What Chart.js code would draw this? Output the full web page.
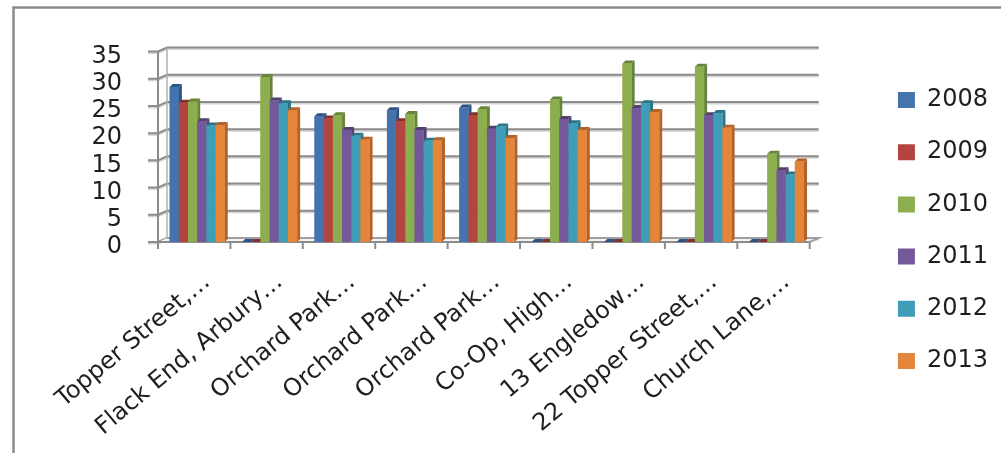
<!DOCTYPE html>
<html>
<head>
<meta charset="utf-8">
<script src="https://cdn.jsdelivr.net/npm/chart.js@4/dist/chart.umd.min.js"></script>
<style>
  html, body { margin: 0; padding: 0; background: #ffffff; }
  #wrap { width: 1001px; height: 453px; position: relative; }
</style>
</head>
<body>
<div id="wrap"><canvas id="chart" width="1001" height="453"></canvas></div>
<script>
// Site names (as shortened on the axis) and yearly readings
const categories = [
  'Topper Street,…', 'Flack End, Arbury…', 'Orchard Park…', 'Orchard Park…',
  'Orchard Park…', 'Co-Op, High…', '13 Engledow…', '22 Topper Street,…', 'Church Lane,…'
];
const years = ['2008', '2009', '2010', '2011', '2012', '2013'];
const values2008 = [28.5, 0, 23.1, 24.2, 24.7, 0, 0, 0, 0];
const values2009 = [25.6, 0, 22.7, 22.2, 23.3, 0, 0, 0, 0];
const values2010 = [25.8, 30.3, 23.3, 23.5, 24.4, 26.2, 32.8, 32.2, 16.2];
const values2011 = [22.2, 26.0, 20.6, 20.6, 20.8, 22.6, 24.6, 23.3, 13.2];
const values2012 = [21.4, 25.5, 19.5, 18.6, 21.2, 21.8, 25.5, 23.7, 12.4];
const values2013 = [21.5, 24.2, 18.8, 18.7, 19.1, 20.6, 23.9, 21.0, 14.8];
const yTickValues = [0, 5, 10, 15, 20, 25, 30, 35];

const seriesValues = [values2008, values2009, values2010, values2011, values2012, values2013];
const faceColors = ['#4473ad', '#b4443f', '#8dae4e', '#74599a', '#3f9db8', '#e5853a'];
const shadeColors = ['#2d5283', '#86302c', '#66853a', '#52406e', '#2b7489', '#b1622a'];

const FONT = { family: '"DejaVu Sans", "Liberation Sans", sans-serif', size: 24 };
const DEPTH = 3;      // bar depth offset (px)
const WALL_DX = 9;    // back wall offset from front axis
const WALL_DY = -4;

// frame, walls, gridlines and floor
const wallPlugin = {
  id: 'wall3d',
  beforeDraw(chart) {
    const ctx = chart.ctx;
    ctx.save();
    ctx.strokeStyle = '#8a8a8a';
    ctx.lineWidth = 2.5;
    ctx.beginPath();
    ctx.moveTo(13.5, chart.height);
    ctx.lineTo(13.5, 7.5);
    ctx.lineTo(chart.width, 7.5);
    ctx.stroke();
    ctx.restore();
  },
  beforeDatasetsDraw(chart) {
    const { ctx, chartArea: a, scales: { x, y } } = chart;
    const fx = a.left - 3;
    const bx = fx + WALL_DX;
    const rx = a.right + 6;
    const y0 = y.getPixelForValue(0);
    const yTop = y.getPixelForValue(yTickValues[yTickValues.length - 1]);
    ctx.save();
    ctx.lineCap = 'butt';
    const strokeGrid = (color, width, off) => {
      ctx.strokeStyle = color;
      ctx.lineWidth = width;
      y.ticks.forEach(t => {
        const py = y.getPixelForValue(t.value) + off;
        ctx.beginPath();
        ctx.moveTo(fx - 10, py);
        ctx.lineTo(fx, py);
        ctx.lineTo(bx, py + WALL_DY);
        ctx.lineTo(rx, py + WALL_DY);
        ctx.stroke();
      });
    };
    strokeGrid('#d4d4d4', 2, 1.5);
    strokeGrid('#8c8c8c', 2, 0);
    // back wall left edge and front axis
    ctx.strokeStyle = '#b0b0b0';
    ctx.lineWidth = 1.5;
    ctx.beginPath();
    ctx.moveTo(bx, yTop + WALL_DY);
    ctx.lineTo(bx, y0 + WALL_DY);
    ctx.stroke();
    ctx.strokeStyle = '#8c8c8c';
    ctx.lineWidth = 2;
    ctx.beginPath();
    ctx.moveTo(fx, yTop);
    ctx.lineTo(fx, y0 + 7);
    ctx.stroke();
    // floor
    const half = (x.getPixelForValue(1) - x.getPixelForValue(0)) / 2;
    const frontRight = x.getPixelForValue(categories.length - 1) + half - 3;
    ctx.fillStyle = '#f4f4f4';
    ctx.beginPath();
    ctx.moveTo(fx, y0);
    ctx.lineTo(bx, y0 + WALL_DY);
    ctx.lineTo(rx, y0 + WALL_DY);
    ctx.lineTo(frontRight, y0);
    ctx.closePath();
    ctx.fill();
    ctx.strokeStyle = '#a0a0a0';
    ctx.beginPath();
    ctx.moveTo(bx, y0 + WALL_DY);
    ctx.lineTo(rx, y0 + WALL_DY);
    ctx.lineTo(frontRight, y0);
    ctx.stroke();
    ctx.strokeStyle = '#8c8c8c';
    ctx.beginPath();
    ctx.moveTo(fx, y0);
    ctx.lineTo(frontRight, y0);
    ctx.stroke();
    // category tick marks
    for (let i = 0; i <= categories.length; i++) {
      const px = x.getPixelForValue(i) - half - 3;
      ctx.beginPath();
      ctx.moveTo(px, y0);
      ctx.lineTo(px, y0 + 7);
      ctx.stroke();
    }
    ctx.restore();
  },
  afterDatasetsDraw(chart) {
    // give each bar a right side face and a top face, drawn left to right
    const ctx = chart.ctx;
    const metas = chart.data.datasets.map((_, i) => chart.getDatasetMeta(i));
    ctx.save();
    for (let c = 0; c < categories.length; c++) {
      metas.forEach((meta, d) => {
        const el = meta.data[c];
        if (!el) return;
        const { x, y, base, width } = el.getProps(['x', 'y', 'base', 'width'], true);
        const l = x - width / 2, r = x + width / 2;
        ctx.fillStyle = shadeColors[d];
        ctx.beginPath();
        ctx.moveTo(r, y);
        ctx.lineTo(r + DEPTH, y - DEPTH);
        ctx.lineTo(r + DEPTH, base - DEPTH);
        ctx.lineTo(r, base);
        ctx.closePath();
        ctx.fill();
        ctx.beginPath();
        ctx.moveTo(l, y);
        ctx.lineTo(l + DEPTH, y - DEPTH);
        ctx.lineTo(r + DEPTH, y - DEPTH);
        ctx.lineTo(r, y);
        ctx.closePath();
        ctx.fill();
        ctx.fillStyle = faceColors[d];
        ctx.fillRect(l, y, width, base - y);
      });
    }
    ctx.restore();
  }
};

const PLOT_TOP = 51.5, PLOT_BOTTOM = 242, PLOT_LEFT = 161, PAD_TOP = 8, PAD_LEFT = 14;

new Chart(document.getElementById('chart'), {
  type: 'bar',
  data: {
    labels: categories,
    datasets: years.map((yr, i) => ({
      label: yr,
      data: seriesValues[i],
      backgroundColor: faceColors[i],
      borderWidth: 0,
      categoryPercentage: 0.76,
      barPercentage: 1.0
    }))
  },
  options: {
    responsive: false,
    animation: false,
    events: [],
    layout: { padding: { left: PAD_LEFT, top: PAD_TOP, right: 3, bottom: 0 } },
    scales: {
      x: {
        grid: { display: false },
        border: { display: false },
        ticks: {
          font: FONT,
          color: '#1f1f1f',
          minRotation: 40,
          maxRotation: 40,
          autoSkip: false,
          labelOffset: 10,
          padding: 18
        },
        afterFit(s) { s.height = 453 - PLOT_BOTTOM; }
      },
      headroom: {
        type: 'category',
        position: 'top',
        display: true,
        grid: { display: false },
        border: { display: false },
        ticks: { display: false },
        afterFit(s) { s.height = PLOT_TOP - PAD_TOP; }
      },
      y: {
        min: 0,
        max: 35,
        grid: { display: false },
        border: { display: false },
        afterBuildTicks(s) { s.ticks = yTickValues.map(v => ({ value: v })); },
        ticks: { font: FONT, color: '#1f1f1f', padding: 31, autoSkip: false, labelOffset: 5 },
        afterFit(s) { s.width = PLOT_LEFT - PAD_LEFT; }
      },
      gap: {
        type: 'linear',
        position: 'right',
        display: true,
        grid: { display: false },
        border: { display: false },
        ticks: { display: false },
        afterFit(s) { s.width = 57; }
      }
    },
    plugins: {
      legend: {
        position: 'right',
        align: 'center',
        labels: {
          font: FONT,
          color: '#1f1f1f',
          boxWidth: 17,
          boxHeight: 16,
          padding: 28.2
        }
      },
      tooltip: { enabled: false }
    }
  },
  plugins: [wallPlugin]
});
</script>
</body>
</html>
